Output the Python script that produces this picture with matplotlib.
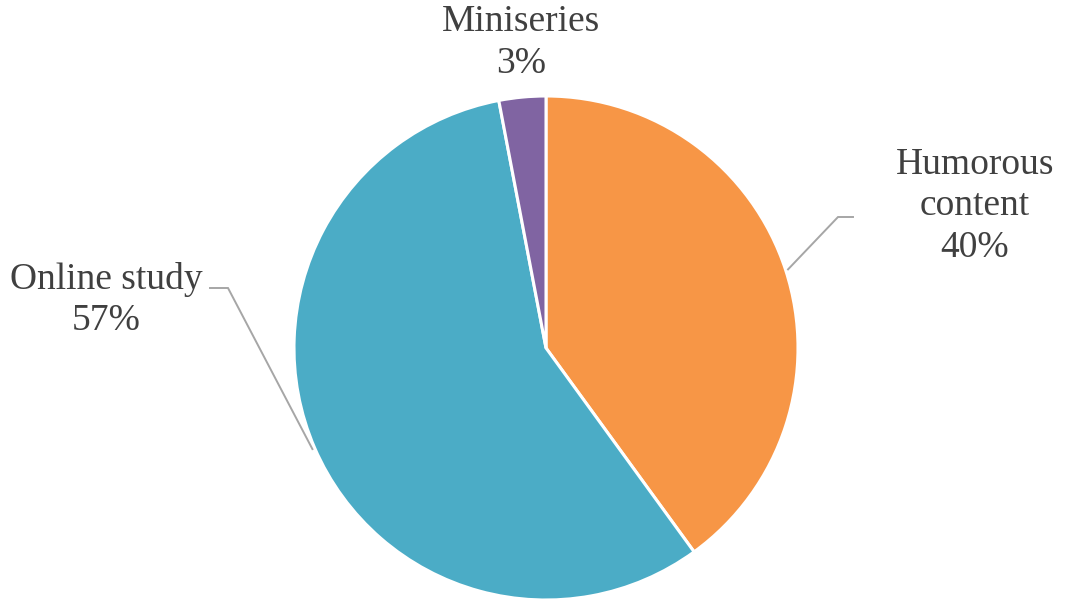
import numpy as np
import matplotlib.pyplot as plt

# data
categories = ['Humorous\ncontent', 'Online study', 'Miniseries']
shares = [40, 57, 3]
colors = ['#F79646', '#4BACC6', '#8064A2']

W, H = 1066, 602
fig = plt.figure(figsize=(W / 100, H / 100), dpi=100)
ax = fig.add_axes([0, 0, 1, 1])

# pie geometry in pixel units (y measured up from bottom)
cx, cy, R = 546, 602 - 348, 252
wedges, _ = ax.pie(shares, colors=colors, startangle=90, counterclock=False,
                   center=(cx, cy), radius=R, frame=True,
                   wedgeprops=dict(edgecolor='white', linewidth=2.2))
ax.set_xlim(0, W)
ax.set_ylim(0, H)
ax.set_aspect('equal')
ax.axis('off')

# label blocks: (x, y-from-top) of block centre, elbow point, elbow end
label_pos = [(975, 206), (106, 300), (521, 43)]
elbows = [((838, 217), (853, 217)), ((228, 288), (210, 288)), None]

for w, name, val, (lx, ly), elb in zip(wedges, categories, shares, label_pos, elbows):
    ax.text(lx, H - ly, f'{name}\n{val}%', ha='center', va='center',
            multialignment='center', fontsize=27, color='#404040',
            family='Liberation Serif', linespacing=1.27)
    if elb is not None:
        ang = np.deg2rad((w.theta1 + w.theta2) / 2)
        x0 = cx + R * 1.01 * np.cos(ang)
        y0 = cy + R * 1.01 * np.sin(ang)
        (ex, ey), (fx, fy) = elb
        ax.plot([x0, ex, fx], [y0, H - ey, H - fy], color='#A6A6A6', lw=1.4,
                solid_joinstyle='miter')

fig.savefig('out.png', dpi=100)
